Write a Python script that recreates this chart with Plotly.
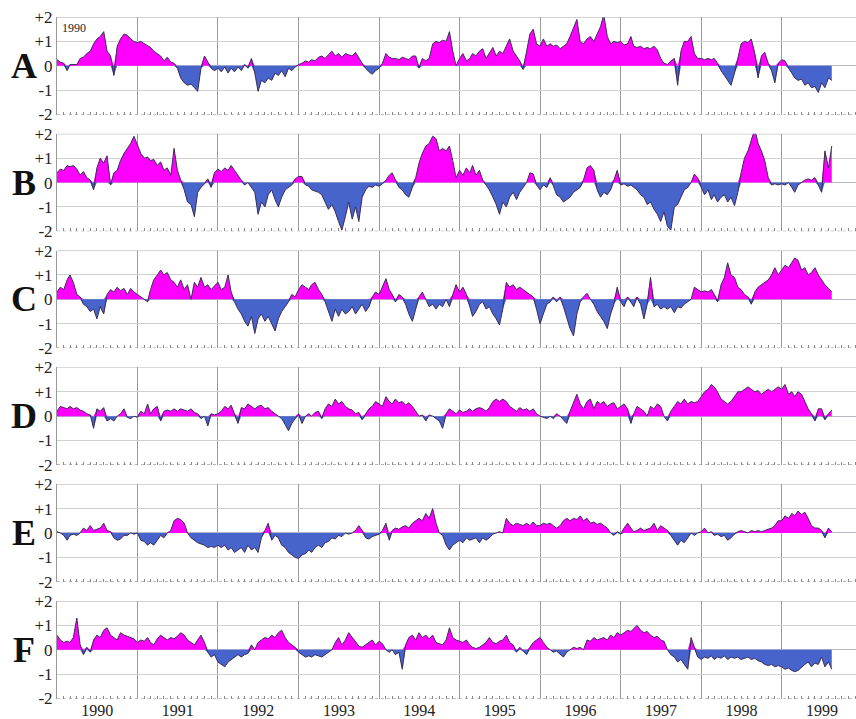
import plotly.graph_objects as go

# ---------------- data (half-monthly samples, Jan 1990 - Aug 1999) ----------------
panel_labels = ["A", "B", "C", "D", "E", "F"]
year_labels = ["1990", "1991", "1992", "1993", "1994", "1995", "1996", "1997", "1998", "1999"]
ytick_values = [-2, -1, 0, 1, 2]
ytick_text = ["-2", "-1", "0", "+1", "+2"]

panel_a = [
    0.25, 0.15, 0.1, -0.2, 0.05, 0.05, 0.05, 0.3, 0.35, 0.5, 0.6, 0.9, 1.1, 1.2, 1.4, 0.6, 0.4, -0.4, 0.8, 1.1, 1.3, 1.25, 1.1, 1.0,
    0.95, 1.0, 0.9, 0.8, 0.75, 0.6, 0.5, 0.4, 0.2, 0.35, 0.15, 0.1, -0.1, -0.5, -0.7, -0.8, -0.75, -0.9, -1.05, -0.1, 0.4, 0.15, -0.1, -0.2,
    -0.1, -0.25, -0.05, -0.3, -0.1, -0.25, -0.05, -0.2, 0.05, -0.1, 0.3, -0.3, -1.05, -0.6, -0.7, -0.5, -0.6, -0.3, -0.4, -0.2, -0.45, -0.1, -0.2, -0.05,
    0.05, 0.1, 0.2, 0.15, 0.25, 0.2, 0.35, 0.4, 0.3, 0.45, 0.6, 0.4, 0.5, 0.35, 0.5, 0.45, 0.4, 0.55, 0.3, 0.1, -0.1, -0.25, -0.35, -0.2,
    -0.1, 0.1, 0.5, 0.35, 0.3, 0.3, 0.25, 0.35, 0.3, 0.25, 0.4, 0.4, -0.1, 0.3, 0.2, 0.3, 0.9, 1.0, 0.95, 1.05, 1.0, 1.4, 0.6, 0.0,
    0.3, 0.5, 0.2, 0.3, 0.5, 0.4, 0.6, 0.7, 0.3, 0.5, 0.75, 0.4, 0.6, 0.5, 0.8, 1.1, 0.6, 0.4, 0.2, -0.15, 0.6, 1.3, 1.5, 0.9,
    0.8, 1.1, 0.8, 0.9, 0.8, 0.85, 0.7, 0.8, 0.9, 1.2, 1.6, 1.9, 1.0, 0.9, 1.1, 1.2, 1.0, 1.3, 1.6, 2.1, 1.2, 0.9, 1.0, 0.95,
    1.0, 0.85, 0.9, 1.2, 0.8, 0.75, 0.8, 0.7, 0.75, 0.7, 0.8, 0.65, 0.3, 0.1, 0.05, 0.2, 0.3, -0.8, 0.6, 1.0, 1.0, 1.2, 0.5, 0.3,
    0.3, 0.25, 0.3, 0.25, 0.3, 0.1, -0.2, -0.4, -0.6, -0.8, -0.3, 0.3, 0.9, 1.0, 0.95, 1.1, 0.5, -0.5, 0.4, 0.55, 0.1, -0.2, -0.7, 0.1,
    0.25, 0.2, -0.1, -0.3, -0.5, -0.6, -0.55, -0.8, -0.7, -0.9, -0.85, -1.1, -0.7, -0.9, -0.5, -0.6,
]
panel_b = [
    0.4, 0.55, 0.5, 0.7, 0.65, 0.7, 0.55, 0.3, 0.45, 0.2, 0.1, -0.3, 0.6, 1.0, 0.8, 1.1, -0.1, 0.4, 0.5, 0.9, 1.2, 1.4, 1.6, 1.9,
    1.5, 1.2, 1.0, 1.05, 0.9, 0.95, 0.7, 0.85, 0.5, 0.6, 0.3, 1.4, 0.5, 0.1, -0.3, -0.8, -0.9, -1.4, -0.4, -0.2, -0.05, 0.15, -0.2, 0.4,
    0.55, 0.45, 0.6, 0.5, 0.7, 0.5, 0.3, 0.1, -0.1, 0.0, -0.2, -0.4, -1.3, -0.8, -1.0, -0.5, -0.3, -0.7, -1.0, -0.6, -0.3, -0.2, -0.1, 0.15,
    0.25, 0.25, -0.1, -0.15, -0.3, -0.35, -0.4, -0.5, -0.8, -1.1, -0.9, -1.2, -1.6, -1.95, -1.4, -0.8, -1.5, -1.0, -1.6, -0.6, -0.3, -0.15, -0.2, -0.1,
    -0.15, -0.05, 0.1, 0.3, 0.4, 0.1, -0.2, -0.3, -0.5, -0.6, -0.2, 0.2, 0.8, 1.2, 1.5, 1.6, 1.9, 1.8, 1.3, 1.4, 1.3, 1.5, 0.9, 0.2,
    0.5, 0.3, 0.6, 0.4, 0.7, 0.3, 0.5, 0.1, -0.1, -0.3, -0.6, -0.9, -1.3, -0.8, -1.0, -0.6, -0.4, -0.7, -0.4, -0.2, 0.0, 0.4, 0.35, -0.1,
    -0.3, -0.1, -0.2, 0.2, -0.1, -0.5, -0.6, -0.8, -0.7, -0.6, -0.4, -0.3, -0.2, 0.1, 0.6, 0.7, 0.5, -0.3, -0.6, -0.4, -0.5, -0.3, 0.1, 0.5,
    -0.1, -0.05, -0.15, -0.1, -0.2, -0.3, -0.5, -0.6, -0.9, -0.8, -1.1, -1.3, -1.6, -1.2, -1.8, -1.95, -1.0, -0.9, -0.6, -0.3, -0.2, 0.0, 0.35, 0.2,
    -0.2, -0.5, -0.3, -0.7, -0.5, -0.8, -0.6, -0.5, -0.8, -0.6, -0.95, -0.4, 0.4, 1.0, 1.3, 1.8, 2.2, 1.6, 1.3, 0.9, 0.2, -0.1, -0.05, -0.1,
    -0.05, -0.1, 0.0, -0.2, -0.4, -0.1, 0.0, 0.1, 0.15, 0.1, 0.2, -0.1, -0.4, 1.3, 0.6, 1.5,
]
panel_c = [
    0.3, 0.5, 0.4, 0.8, 1.0, 0.7, 0.2, 0.1, -0.2, -0.3, -0.5, -0.4, -0.8, -0.3, -0.6, 0.2, 0.4, 0.3, 0.5, 0.35, 0.45, 0.2, 0.45, 0.3,
    0.2, 0.1, 0.0, -0.1, 0.4, 0.8, 1.0, 1.2, 1.0, 1.1, 0.8, 0.7, 0.5, 0.8, 0.4, 0.6, 0.0, 0.7, 0.5, 0.9, 0.5, 0.6, 0.4, 0.55,
    0.7, 0.4, 0.5, 1.0, 0.3, -0.1, -0.4, -0.6, -0.9, -1.1, -0.7, -1.4, -0.8, -0.6, -0.9, -0.7, -1.0, -1.3, -0.8, -0.5, -0.3, -0.1, 0.2, 0.1,
    0.4, 0.6, 0.5, 0.4, 0.6, 0.7, 0.4, 0.2, -0.1, -0.5, -0.9, -0.4, -0.7, -0.4, -0.6, -0.5, -0.3, -0.6, -0.4, -0.2, -0.5, -0.3, 0.1, 0.3,
    0.2, 0.5, 0.85, 0.4, 0.2, -0.1, 0.2, 0.1, -0.2, -0.6, -0.9, -0.4, 0.1, 0.3, 0.0, -0.3, -0.2, -0.4, -0.2, -0.3, 0.0, -0.3, 0.2, 0.6,
    0.3, 0.5, 0.2, -0.3, -0.7, -0.5, -0.2, -0.1, -0.4, -0.3, -0.6, -0.8, -1.05, -0.4, 0.7, 0.5, 0.6, 0.4, 0.5, 0.4, 0.3, 0.2, 0.1, -0.4,
    -1.0, -0.6, -0.2, -0.1, 0.1, -0.1, 0.1, -0.3, -0.8, -1.2, -1.5, -0.6, -0.1, 0.1, 0.25, 0.0, -0.2, -0.5, -0.7, -0.9, -1.2, -0.6, -0.2, 0.5,
    -0.1, -0.3, 0.1, -0.1, -0.3, 0.1, -0.2, -0.8, -0.2, 0.9, -0.3, -0.2, -0.4, -0.3, -0.4, -0.3, -0.55, -0.3, -0.35, -0.2, -0.1, 0.0, 0.5, 0.4,
    0.3, 0.35, 0.3, 0.4, 0.2, -0.1, 0.6, 0.9, 1.5, 1.0, 0.9, 0.5, 0.4, 0.2, 0.1, -0.2, 0.3, 0.5, 0.6, 0.7, 0.8, 1.0, 1.3, 1.0,
    1.2, 1.4, 1.3, 1.5, 1.7, 1.6, 1.2, 1.3, 1.0, 1.1, 1.3, 1.0, 0.8, 0.6, 0.45, 0.3,
]
panel_d = [
    0.2, 0.4, 0.35, 0.3, 0.4, 0.3, 0.35, 0.25, 0.2, 0.1, 0.05, -0.5, 0.3, 0.2, 0.35, -0.2, -0.1, -0.2, 0.0, 0.1, 0.3, -0.05, -0.1, 0.0,
    -0.05, 0.2, 0.1, 0.5, 0.1, 0.3, 0.4, -0.2, 0.2, 0.25, 0.2, 0.3, 0.2, 0.3, 0.25, 0.2, 0.3, 0.15, 0.1, -0.1, 0.0, -0.4, 0.1, 0.05,
    0.1, 0.2, 0.4, 0.3, 0.45, 0.1, -0.3, 0.35, 0.3, 0.5, 0.4, 0.3, 0.4, 0.45, 0.3, 0.35, 0.2, 0.1, 0.0, -0.1, -0.35, -0.6, -0.3, -0.1,
    0.1, -0.3, 0.0, 0.1, 0.0, 0.15, 0.2, -0.1, 0.3, 0.5, 0.4, 0.7, 0.5, 0.6, 0.4, 0.3, 0.25, 0.1, 0.15, -0.15, 0.1, 0.3, 0.4, 0.6,
    0.5, 0.4, 0.8, 0.6, 0.5, 0.7, 0.55, 0.6, 0.45, 0.55, 0.4, 0.2, 0.0, 0.05, -0.2, 0.05, 0.0, -0.1, -0.2, -0.5, 0.1, 0.3, 0.2, 0.1,
    0.25, 0.15, 0.2, 0.3, 0.2, 0.3, 0.35, 0.3, 0.2, 0.35, 0.6, 0.7, 0.6, 0.7, 0.6, 0.4, 0.3, 0.2, 0.35, 0.25, 0.3, 0.2, 0.3, 0.1,
    0.0, -0.05, -0.1, 0.0, -0.1, 0.1, 0.0, -0.15, -0.3, 0.2, 0.6, 0.9, 0.5, 0.3, 0.6, 0.7, 0.3, 0.6, 0.5, 0.6, 0.4, 0.5, 0.55, 0.3,
    0.4, 0.5, 0.3, -0.3, 0.1, 0.4, 0.3, 0.2, 0.0, 0.4, 0.3, 0.5, 0.4, 0.0, -0.2, 0.2, 0.4, 0.6, 0.5, 0.7, 0.5, 0.6, 0.55, 0.6,
    0.8, 1.0, 1.1, 1.3, 1.2, 1.0, 0.7, 0.6, 0.5, 0.6, 0.8, 1.0, 1.0, 1.1, 1.2, 1.1, 1.0, 1.05, 0.9, 1.0, 1.1, 1.0, 1.1, 1.2,
    1.1, 1.3, 0.9, 1.0, 0.8, 1.0, 0.9, 0.6, 0.3, 0.1, -0.2, 0.3, 0.3, -0.15, 0.1, 0.25,
]
panel_e = [
    0.05, 0.0, -0.1, -0.3, -0.1, -0.05, -0.1, 0.0, 0.2, 0.1, 0.3, 0.1, 0.15, 0.2, 0.4, 0.1, 0.05, -0.2, -0.3, -0.25, -0.1, -0.1, 0.0, -0.05,
    0.0, -0.3, -0.35, -0.5, -0.4, -0.5, -0.3, -0.1, -0.2, 0.0, 0.1, 0.5, 0.6, 0.55, 0.4, 0.0, -0.2, -0.3, -0.4, -0.45, -0.5, -0.6, -0.55, -0.6,
    -0.5, -0.6, -0.5, -0.7, -0.6, -0.8, -0.7, -0.6, -0.8, -0.5, -0.7, -0.6, -0.8, -0.2, 0.1, 0.4, -0.3, -0.1, -0.2, -0.5, -0.6, -0.8, -0.9, -1.0,
    -1.05, -0.9, -0.85, -0.7, -0.8, -0.6, -0.5, -0.6, -0.4, -0.35, -0.2, -0.25, -0.1, -0.15, 0.0, -0.05, 0.0, 0.1, 0.3, 0.1, -0.2, -0.25, -0.15, -0.1,
    -0.05, 0.1, 0.4, -0.3, 0.1, 0.2, 0.15, 0.25, 0.3, 0.2, 0.4, 0.5, 0.6, 0.5, 0.8, 0.6, 1.0, 0.4, 0.0, -0.1, -0.5, -0.7, -0.5, -0.4,
    -0.3, -0.4, -0.2, -0.3, -0.25, -0.2, -0.4, -0.2, -0.3, -0.2, -0.05, 0.0, 0.05, 0.0, 0.6, 0.4, 0.3, 0.4, 0.35, 0.3, 0.4, 0.3, 0.45, 0.3,
    0.3, 0.4, 0.35, 0.4, 0.3, 0.2, 0.3, 0.5, 0.6, 0.5, 0.6, 0.55, 0.7, 0.5, 0.6, 0.4, 0.45, 0.35, 0.4, 0.3, 0.2, 0.0, -0.1, 0.05,
    -0.05, 0.2, 0.4, 0.2, 0.05, 0.1, 0.2, 0.1, 0.15, 0.2, 0.4, 0.1, 0.3, 0.2, 0.1, -0.1, -0.3, -0.5, -0.3, -0.4, -0.2, 0.0, -0.1, 0.0,
    0.05, 0.2, 0.0, 0.05, -0.1, -0.05, -0.15, -0.1, -0.3, -0.2, -0.05, 0.05, 0.1, 0.05, 0.0, 0.1, 0.05, 0.1, 0.05, 0.1, 0.15, 0.2, 0.3, 0.5,
    0.5, 0.7, 0.6, 0.8, 0.7, 0.9, 0.75, 0.85, 0.6, 0.3, 0.2, 0.2, 0.1, -0.2, 0.2, 0.05,
]
panel_f = [
    0.6, 0.4, 0.3, 0.35, 0.3, 0.5, 1.3, 0.2, -0.2, 0.1, -0.1, 0.4, 0.6, 0.5, 0.8, 0.9, 0.6, 0.5, 0.4, 0.7, 0.6, 0.55, 0.5, 0.45,
    0.3, 0.4, 0.35, 0.5, 0.3, 0.2, 0.45, 0.6, 0.5, 0.4, 0.5, 0.45, 0.55, 0.7, 0.6, 0.4, 0.3, 0.2, 0.4, 0.6, 0.3, -0.1, -0.3, -0.2,
    -0.5, -0.6, -0.7, -0.5, -0.4, -0.3, -0.2, -0.3, -0.2, -0.15, 0.2, 0.0, 0.3, 0.4, 0.5, 0.45, 0.6, 0.5, 0.7, 0.8, 0.5, 0.3, 0.2, 0.1,
    -0.1, -0.2, -0.3, -0.25, -0.3, -0.2, -0.25, -0.3, -0.2, -0.1, 0.0, 0.3, 0.5, 0.2, 0.4, 0.7, 0.5, 0.3, 0.15, 0.1, 0.2, 0.3, 0.4, 0.2,
    0.35, 0.25, 0.0, -0.1, 0.0, -0.2, -0.1, -0.8, 0.2, 0.5, 0.6, 0.4, 0.7, 0.5, 0.6, 0.45, 0.6, 0.3, 0.25, 0.2, 0.4, 0.9, 0.5, 0.4,
    0.35, 0.3, 0.4, 0.2, 0.1, 0.05, 0.1, 0.2, 0.3, 0.5, 0.3, 0.25, 0.35, 0.4, 0.6, 0.3, 0.2, -0.1, 0.1, -0.05, -0.2, 0.1, 0.3, 0.4,
    0.5, 0.3, 0.1, 0.0, -0.1, -0.05, -0.2, -0.3, -0.1, 0.0, 0.1, 0.05, 0.1, 0.0, 0.4, 0.35, 0.5, 0.4, 0.45, 0.5, 0.4, 0.6, 0.5, 0.7,
    0.6, 0.7, 0.8, 0.75, 0.85, 1.0, 0.8, 0.7, 0.75, 0.6, 0.5, 0.55, 0.4, 0.35, 0.0, -0.2, -0.3, -0.5, -0.4, -0.6, -0.8, 0.5, 0.1, -0.3,
    -0.4, -0.3, -0.35, -0.25, -0.4, -0.3, -0.35, -0.25, -0.4, -0.3, -0.35, -0.3, -0.4, -0.35, -0.3, -0.4, -0.35, -0.45, -0.5, -0.6, -0.65, -0.6, -0.7, -0.65,
    -0.7, -0.8, -0.75, -0.85, -0.9, -0.85, -0.7, -0.6, -0.5, -0.7, -0.55, -0.6, -0.3, -0.7, -0.5, -0.8,
]
panels = [panel_a, panel_b, panel_c, panel_d, panel_e, panel_f]

# sampling grid: 1st and 16th of every month
dates = []
for yr in range(1990, 2000):
    for mo in range(1, 13):
        for dy in (1, 16):
            dates.append(f"{yr}-{mo:02d}-{dy:02d}")

# ---------------- styling ----------------
W, H = 856, 719
LEFT = 57
TOP0, STEP, PH = 17, 116.8, 97.5
POS_COLOR = "#ff00ff"
NEG_COLOR = "#4763cc"
LINE_COLOR = "#3b2c55"
GRID_V = "#9a9a9a"
GRID_H = "#cfcfcf"
SERIF = "Liberation Serif, Times New Roman, serif"
X_RANGE = ["1990-01-01", "1999-12-04"]

fig = go.Figure()
layout = dict(
    width=W, height=H,
    margin=dict(l=0, r=0, t=0, b=0, autoexpand=False),
    paper_bgcolor="white", plot_bgcolor="white",
    showlegend=False,
    font=dict(family=SERIF, size=16, color="#222"),
)
shapes = []
annotations = []

for i, vals in enumerate(panels):
    n = len(vals)
    xs = dates[:n]
    pos = [v if v > 0 else 0 for v in vals]
    neg = [v if v < 0 else 0 for v in vals]
    xa = "x" if i == 0 else f"x{i+1}"
    ya = "y" if i == 0 else f"y{i+1}"
    fig.add_trace(go.Scatter(x=xs, y=pos, mode="lines", fill="tozeroy", fillcolor=POS_COLOR,
                             line=dict(width=0, color=POS_COLOR), xaxis=xa, yaxis=ya, hoverinfo="skip"))
    fig.add_trace(go.Scatter(x=xs, y=neg, mode="lines", fill="tozeroy", fillcolor=NEG_COLOR,
                             line=dict(width=0, color=NEG_COLOR), xaxis=xa, yaxis=ya, hoverinfo="skip"))
    fig.add_trace(go.Scatter(x=xs, y=vals, mode="lines", line=dict(width=1, color=LINE_COLOR),
                             xaxis=xa, yaxis=ya))

    top = TOP0 + STEP * i
    bot = top + PH
    yd = [1 - bot / H, 1 - top / H]
    last = i == len(panels) - 1
    layout["xaxis" if i == 0 else f"xaxis{i+1}"] = dict(
        domain=[LEFT / W, 1], anchor=ya, type="date", range=X_RANGE, automargin=False,
        tick0="1990-01-01", dtick="M12", showgrid=True, gridcolor=GRID_V, gridwidth=1,
        ticks="", showticklabels=last, ticklabelmode="period", tickformat="%Y",
        tickfont=dict(family=SERIF, size=16, color="#222"),
        minor=dict(dtick="M1", ticks="inside", ticklen=3, tickcolor="#888", showgrid=False),
        showline=False, zeroline=False, fixedrange=True,
    )
    layout["yaxis" if i == 0 else f"yaxis{i+1}"] = dict(
        domain=yd, anchor=xa, range=[-2, 2], tickvals=ytick_values, ticktext=ytick_text,
        automargin=False,
        showgrid=True, gridcolor=GRID_H, gridwidth=1, zeroline=True, zerolinecolor="#b8b8c8",
        zerolinewidth=1, showline=True, linecolor="#999", ticks="",
        tickfont=dict(family=SERIF, size=17, color="#222"), fixedrange=True,
    )
    # top border (+2) and dotted bottom border (-2)
    shapes.append(dict(type="line", xref="paper", yref=ya, x0=LEFT / W, x1=1, y0=2, y1=2,
                       line=dict(color="#aaaaaa", width=1)))
    shapes.append(dict(type="line", xref="paper", yref=ya, x0=LEFT / W, x1=1, y0=-2, y1=-2,
                       line=dict(color="#8a8a8a", width=1, dash="dot")))
    # panel letter
    annotations.append(dict(text=f"<b>{panel_labels[i]}</b>", xref="paper", yref=ya,
                            x=24 / W, y=0, xanchor="center", yanchor="middle", showarrow=False,
                            font=dict(family=SERIF, size=36, color="#111")))

annotations.append(dict(text=year_labels[0], xref="paper", yref="y", x=60 / W, y=1.9,
                        xanchor="left", yanchor="top", showarrow=False,
                        font=dict(family=SERIF, size=12, color="#222")))

layout["shapes"] = shapes
layout["annotations"] = annotations
fig.update_layout(**layout)
fig.write_html(
    "out.html",
    config={"displayModeBar": False},
    post_script="document.body.style.margin='0';document.body.style.overflow='hidden';",
)
